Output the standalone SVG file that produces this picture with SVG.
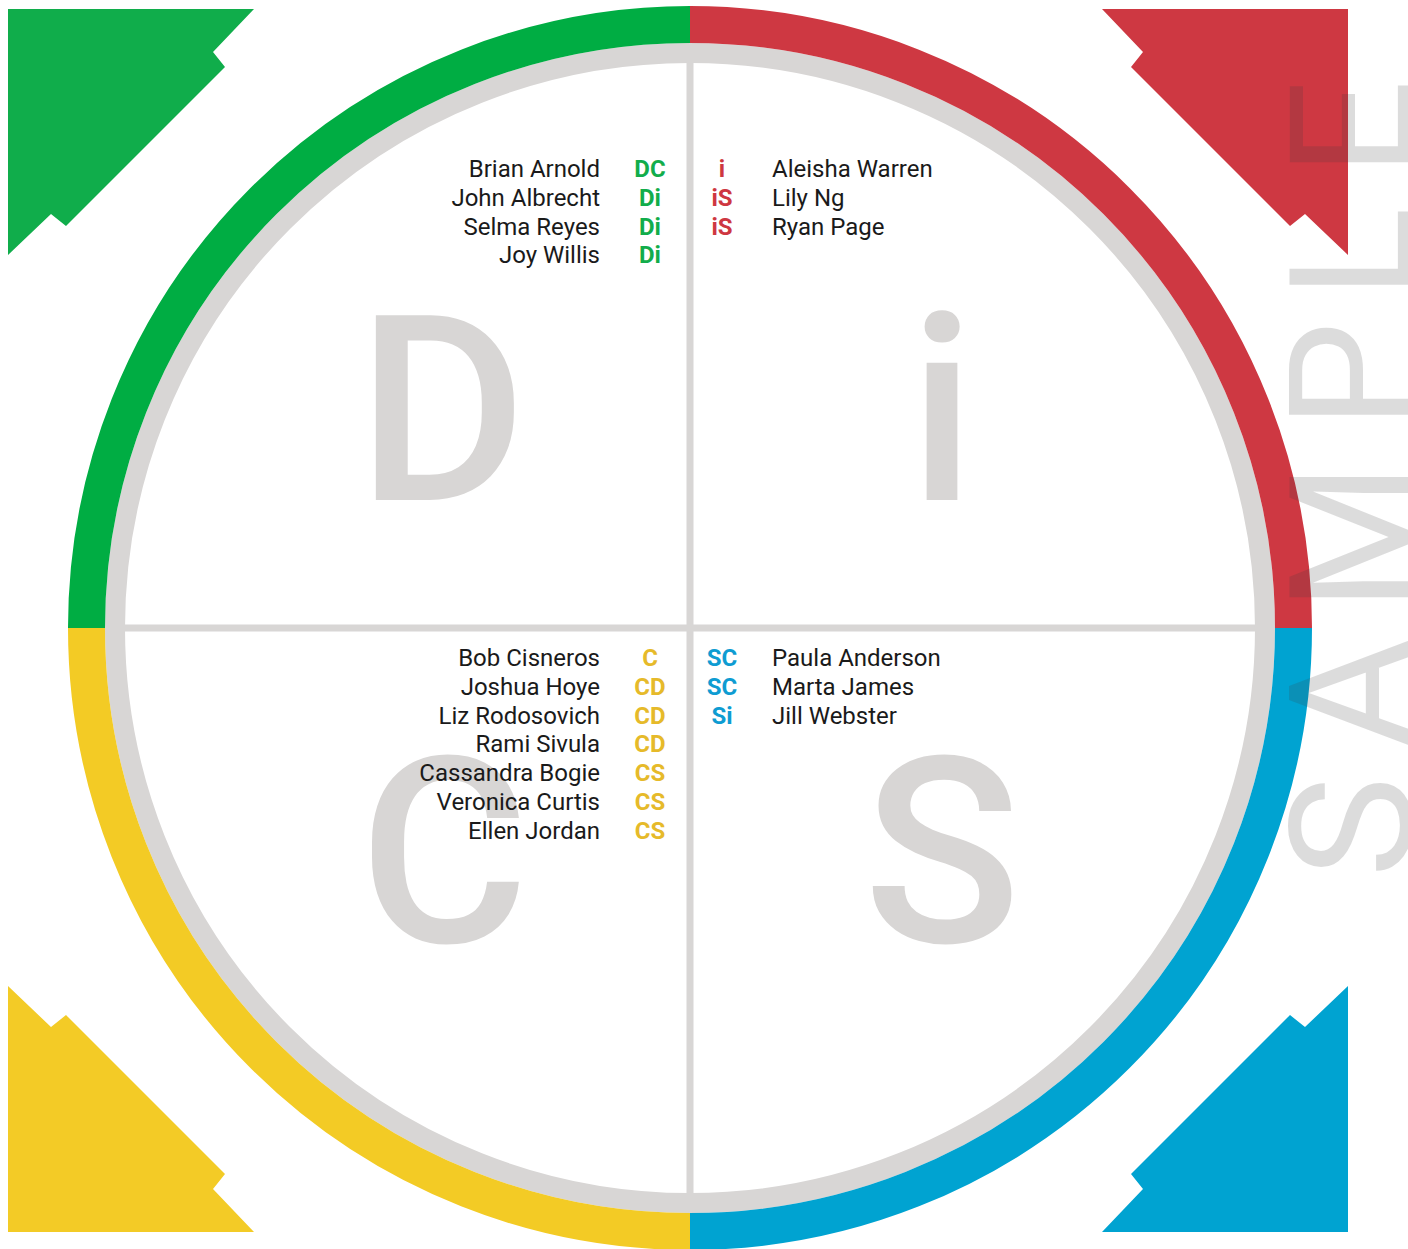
<svg xmlns="http://www.w3.org/2000/svg" width="1408" height="1249" viewBox="0 0 1408 1249">
<style>
.name{font-family:Roboto,"Liberation Sans",sans-serif;font-size:24px;fill:#1a1a1a}
.r{text-anchor:end}
.code{font-family:Roboto,"Liberation Sans",sans-serif;font-size:24px;font-weight:700;text-anchor:middle}
.big{font-family:Roboto,"Liberation Sans",sans-serif;font-size:260px;font-weight:500;fill:#D8D6D5;text-anchor:middle}
.arc{fill:none;stroke-width:37}
.wm{font-family:Roboto,"Liberation Sans",sans-serif;font-size:170px;fill:#3C3C3C;fill-opacity:0.18;text-anchor:middle}
</style>
<defs>
<path id="tri" d="M0,0H246L205,43L217,58L58,217L43,205L0,246Z"/>
</defs>
<rect width="1408" height="1249" fill="#ffffff"/>
<g id="corners">
<use href="#tri" transform="translate(8,9)" fill="#10AD4B"/>
<use href="#tri" transform="translate(1348,9) scale(-1,1)" fill="#CE3842"/>
<use href="#tri" transform="translate(8,1232) scale(1,-1)" fill="#F3CB26"/>
<use href="#tri" transform="translate(1348,1232) scale(-1,-1)" fill="#00A3D1"/>
</g>
<g id="connectors">
<line x1="690" y1="53" x2="690" y2="1203" stroke="#D8D6D5" stroke-width="7"/>
<line x1="115" y1="628" x2="1265" y2="628" stroke="#D8D6D5" stroke-width="7"/>
</g>
<g id="ring">
<circle cx="690" cy="628" r="575" fill="none" stroke="#D8D6D5" stroke-width="20"/>
<path class="arc" stroke="#00AD43" d="M86.5,628A603.5,603.5 0 0 1 690,24.5"/>
<path class="arc" stroke="#CE3842" d="M690,24.5A603.5,603.5 0 0 1 1293.5,628"/>
<path class="arc" stroke="#00A3D1" d="M1293.5,628A603.5,603.5 0 0 1 690,1231.5"/>
<path class="arc" stroke="#F3CB25" d="M690,1231.5A603.5,603.5 0 0 1 86.5,628"/>
</g>
<g id="quadrant-D">
<text class="big" x="442" y="500">D</text>
<text class="name r" x="600" y="177">Brian Arnold</text>
<text class="name r" x="600" y="205.8">John Albrecht</text>
<text class="name r" x="600" y="234.6">Selma Reyes</text>
<text class="name r" x="600" y="263.4">Joy Willis</text>
<g fill="#12AD4B">
<text class="code" x="650" y="177">DC</text>
<text class="code" x="650" y="205.8">Di</text>
<text class="code" x="650" y="234.6">Di</text>
<text class="code" x="650" y="263.4">Di</text>
</g>
</g>
<g id="quadrant-i">
<text class="big" x="942" y="500">i</text>
<g fill="#CE3741">
<text class="code" x="722" y="177">i</text>
<text class="code" x="722" y="205.8">iS</text>
<text class="code" x="722" y="234.6">iS</text>
</g>
<text class="name" x="772" y="177">Aleisha Warren</text>
<text class="name" x="772" y="205.8">Lily Ng</text>
<text class="name" x="772" y="234.6">Ryan Page</text>
</g>
<g id="quadrant-C">
<text class="big" x="444" y="942">C</text>
<text class="name r" x="600" y="666">Bob Cisneros</text>
<text class="name r" x="600" y="694.8">Joshua Hoye</text>
<text class="name r" x="600" y="723.6">Liz Rodosovich</text>
<text class="name r" x="600" y="752.4">Rami Sivula</text>
<text class="name r" x="600" y="781.2">Cassandra Bogie</text>
<text class="name r" x="600" y="810">Veronica Curtis</text>
<text class="name r" x="600" y="838.8">Ellen Jordan</text>
<g fill="#E6BA2A">
<text class="code" x="650" y="666">C</text>
<text class="code" x="650" y="694.8">CD</text>
<text class="code" x="650" y="723.6">CD</text>
<text class="code" x="650" y="752.4">CD</text>
<text class="code" x="650" y="781.2">CS</text>
<text class="code" x="650" y="810">CS</text>
<text class="code" x="650" y="838.8">CS</text>
</g>
</g>
<g id="quadrant-S">
<text class="big" x="942" y="942">S</text>
<g fill="#0E9CD2">
<text class="code" x="722" y="666">SC</text>
<text class="code" x="722" y="694.8">SC</text>
<text class="code" x="722" y="723.6">Si</text>
</g>
<text class="name" x="772" y="666">Paula Anderson</text>
<text class="name" x="772" y="694.8">Marta James</text>
<text class="name" x="772" y="723.6">Jill Webster</text>
</g>
<g id="watermark" transform="translate(1411,1249) rotate(-90)">
<text class="wm" x="422 556 712 874 996 1121" y="0">SAMPLE</text>
</g>
</svg>
